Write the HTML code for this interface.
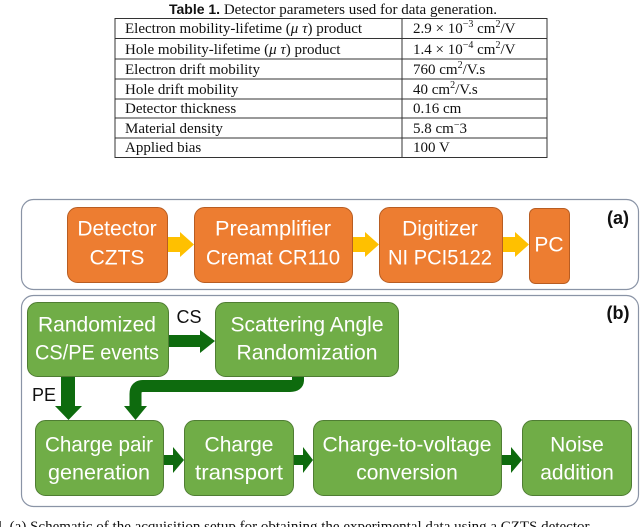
<!DOCTYPE html>
<html><head><style>
html,body{margin:0;padding:0;background:#fff;width:640px;height:527px;overflow:hidden}
svg{display:block}
.t{font-family:"Liberation Serif",serif;font-size:15px;fill:#111}
.b{font-family:"Liberation Sans",sans-serif;font-size:21px;fill:#fff;text-anchor:middle;dominant-baseline:central}
.l{font-family:"Liberation Sans",sans-serif;font-size:18px;fill:#111;dominant-baseline:central}
</style></head><body>
<svg width="640" height="527" viewBox="0 0 640 527" xmlns="http://www.w3.org/2000/svg">
<text x="333" y="14" text-anchor="middle" class="t"><tspan font-family="Liberation Sans" font-weight="bold" font-size="14">Table 1.</tspan> Detector parameters used for data generation.</text>
<g stroke="#333" stroke-width="1" fill="none">
<rect x="115" y="18.5" width="432" height="139"/>
<line x1="402" y1="18" x2="402" y2="157"/>
<line x1="115" y1="38.5" x2="547" y2="38.5"/>
<line x1="115" y1="59" x2="547" y2="59"/>
<line x1="115" y1="79" x2="547" y2="79"/>
<line x1="115" y1="99" x2="547" y2="99"/>
<line x1="115" y1="118" x2="547" y2="118"/>
<line x1="115" y1="138" x2="547" y2="138"/>
</g>
<g class="t">
<text x="125" y="33">Electron mobility-lifetime (<tspan font-style="italic">μ τ</tspan>) product</text>
<text x="125" y="54">Hole mobility-lifetime (<tspan font-style="italic">μ τ</tspan>) product</text>
<text x="125" y="74">Electron drift mobility</text>
<text x="125" y="94">Hole drift mobility</text>
<text x="125" y="113">Detector thickness</text>
<text x="125" y="133">Material density</text>
<text x="125" y="152">Applied bias</text>
<text x="413" y="33">2.9 × 10<tspan font-size="10" dy="-6">−3</tspan><tspan dy="6"> cm</tspan><tspan font-size="10" dy="-6">2</tspan><tspan dy="6">/V</tspan></text>
<text x="413" y="54">1.4 × 10<tspan font-size="10" dy="-6">−4</tspan><tspan dy="6"> cm</tspan><tspan font-size="10" dy="-6">2</tspan><tspan dy="6">/V</tspan></text>
<text x="413" y="74">760 cm<tspan font-size="10" dy="-6">2</tspan><tspan dy="6">/V.s</tspan></text>
<text x="413" y="94">40 cm<tspan font-size="10" dy="-6">2</tspan><tspan dy="6">/V.s</tspan></text>
<text x="413" y="113">0.16 cm</text>
<text x="413" y="133">5.8 cm<tspan font-size="10" dy="-5">−</tspan><tspan dy="5">3</tspan></text>
<text x="413" y="152">100 V</text>
</g>
<rect x="21.5" y="199.5" width="617" height="90" rx="12" fill="#fff" stroke="#8a94a6" stroke-width="1.2"/>
<g fill="#ffc000">
<polygon points="167,237 180,237 180,232 194,244.5 180,257 180,252 167,252"/>
<polygon points="352,237 365,237 365,232 379,244.5 365,257 365,252 352,252"/>
<polygon points="502,237 515,237 515,232 529,244.5 515,257 515,252 502,252"/>
</g>
<g fill="#ed7d31" stroke="#b85d22" stroke-width="1">
<rect x="67.5" y="207.5" width="100" height="75" rx="10"/>
<rect x="194.5" y="207.5" width="158" height="75" rx="10"/>
<rect x="379.5" y="207.5" width="123" height="75" rx="10"/>
<rect x="529.5" y="208.5" width="40" height="75" rx="6"/>
</g>
<g class="b">
<text x="117" y="229">Detector</text><text x="117" y="258">CZTS</text>
<text x="273" y="229" textLength="116" lengthAdjust="spacingAndGlyphs">Preamplifier</text><text x="273" y="258" textLength="134" lengthAdjust="spacingAndGlyphs">Cremat CR110</text>
<text x="440" y="229">Digitizer</text><text x="440" y="258" textLength="104" lengthAdjust="spacingAndGlyphs">NI PCI5122</text>
<text x="549" y="245">PC</text>
</g>
<text x="618" y="218" text-anchor="middle" class="l" font-weight="bold" font-size="20">(a)</text>
<rect x="21.5" y="295.5" width="617" height="211" rx="12" fill="#fff" stroke="#8a94a6" stroke-width="1.2"/>
<g fill="#0e6b0e">
<polygon points="168,335 200,335 200,330 215,341 200,353 200,347 168,347"/>
<polygon points="61,376 75,376 75,406 82,406 68.5,420 55,406 61,406"/>
<polygon points="163,455 173,455 173,447 184,460 173,473 173,465 163,465"/>
<polygon points="293,455 303,455 303,447 313,460 303,473 303,465 293,465"/>
<polygon points="501,455 511,455 511,447 522,460 511,473 511,465 501,465"/>
<polygon points="124,406 147,406 135.5,420"/>
</g>
<path d="M298 376 V380 Q298 386 290 386 H143 Q135.5 386 135.5 394 V408" fill="none" stroke="#0e6b0e" stroke-width="12"/>
<g fill="#70ad47" stroke="#4f7d33" stroke-width="1">
<rect x="27.5" y="302.5" width="141" height="74" rx="10"/>
<rect x="215.5" y="302.5" width="183" height="74" rx="10"/>
<rect x="35.5" y="420.5" width="128" height="75" rx="10"/>
<rect x="184.5" y="420.5" width="109" height="75" rx="10"/>
<rect x="313.5" y="420.5" width="188" height="75" rx="10"/>
<rect x="522.5" y="420.5" width="109" height="75" rx="10"/>
</g>
<g class="b">
<text x="97" y="325" textLength="118" lengthAdjust="spacingAndGlyphs">Randomized</text><text x="97" y="353" textLength="124" lengthAdjust="spacingAndGlyphs">CS/PE events</text>
<text x="307" y="325" textLength="153" lengthAdjust="spacingAndGlyphs">Scattering Angle</text><text x="307" y="353" textLength="141" lengthAdjust="spacingAndGlyphs">Randomization</text>
<text x="99" y="445" textLength="108" lengthAdjust="spacingAndGlyphs">Charge pair</text><text x="99" y="473" textLength="102" lengthAdjust="spacingAndGlyphs">generation</text>
<text x="239" y="445">Charge</text><text x="239" y="473" textLength="88" lengthAdjust="spacingAndGlyphs">transport</text>
<text x="407" y="445" textLength="169" lengthAdjust="spacingAndGlyphs">Charge-to-voltage</text><text x="407" y="473">conversion</text>
<text x="577" y="445">Noise</text><text x="577" y="473">addition</text>
</g>
<text x="189" y="317" text-anchor="middle" class="l">CS</text>
<text x="44" y="395" text-anchor="middle" class="l">PE</text>
<text x="618" y="313" text-anchor="middle" class="l" font-weight="bold" font-size="20">(b)</text>
<text x="-2" y="531" class="t" font-size="14">l. (a) Schematic of the acquisition setup for obtaining the experimental data using a CZTS detector</text>
</svg>
</body></html>
